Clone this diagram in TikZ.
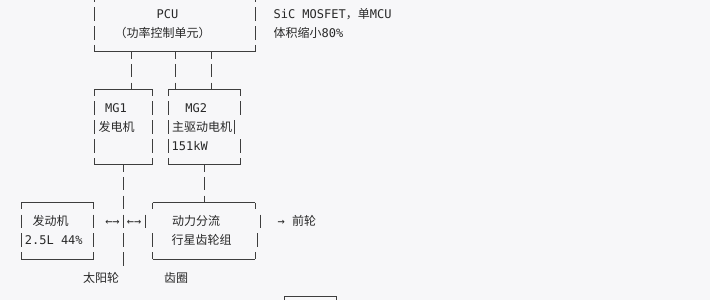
\documentclass[tikz,border=0pt]{standalone}
\usepackage{fontspec}
\setmainfont{DejaVu Sans Mono}
\newfontfamily\cjk{Noto Sans CJK SC}
\newcommand\zh[1]{{\cjk #1}}
\definecolor{bgc}{RGB}{247,247,249}
\definecolor{inkc}{RGB}{40,40,40}
\definecolor{rulec}{RGB}{62,62,62}
% glyph segments of the box-drawing characters (row pitch 18.85, half glyph 6.8)
\newcommand\vbar[2]{\draw[hline] (#1,{#2-6.8}) -- (#1,{#2+6.8});}
\newcommand\stubdn[2]{\draw[hline] (#1,#2) -- (#1,{#2+6.8});}
\newcommand\stubup[2]{\draw[hline] (#1,{#2-6.8}) -- (#1,#2);}
\begin{document}
\begin{tikzpicture}[x=1pt,y=-1pt,
  lbl/.style={inner sep=0pt, outer sep=0pt, text=inkc, font=\fontsize{12}{14}\selectfont, anchor=base},
  lblw/.style={lbl, anchor=base west},
  hline/.style={draw=rulec, line width=1pt},
  vline/.style={draw=rulec, line width=1pt, dash pattern=on 13.6pt off 5.25pt, dash phase=6.8pt},
  ]
\useasboundingbox (0,0) rectangle (710,300);
\fill[bgc] (0,0) rectangle (710,300);
\clip (0,0) rectangle (710,300);

% ---------- PCU ----------
\coordinate (pcuNW) at (94.3,-42.55);
\coordinate (pcuNE) at (255.7,-42.55);
\coordinate (pcuSW) at (94.3,51.7);
\coordinate (pcuSE) at (255.7,51.7);
\coordinate (pcuP1) at (131,51.7);
\coordinate (pcuP2) at (175,51.7);
\coordinate (pcuP3) at (211.7,51.7);
\draw[hline] (pcuNW) -- (pcuNE);
\draw[hline] (pcuSW) -- (pcuSE);
\draw[vline] (pcuNW) -- (pcuSW);
\draw[vline] (pcuNE) -- (pcuSE);
\node[lbl] (pcu) at (167.5,18.4) {PCU};
\node[lbl] (pcusub) at (162.5,37.25) {\zh{（功率控制单元）}};
\node[lblw] (sic) at (273.6,18.4) {SiC MOSFET\zh{，单}MCU};
\node[lblw] (vol) at (273.6,37.25) {\zh{体积缩小}80\%};

% ---------- MG1 ----------
\coordinate (mg1NW) at (94.3,89.4);
\coordinate (mg1NE) at (152.5,89.4);
\coordinate (mg1SW) at (94.3,164.8);
\coordinate (mg1SE) at (152.5,164.8);
\coordinate (mg1N) at (131,89.4);
\coordinate (mg1S) at (123.3,164.8);
\draw[hline] (mg1NW) -- (mg1NE);
\draw[hline] (mg1SW) -- (mg1SE);
\draw[vline] (mg1NW) -- (mg1SW);
\draw[vline] (mg1NE) -- (mg1SE);
\node[lbl] (mg1) at (116,112.65) {MG1};
\node[lbl] (mg1t) at (116.5,131.5) {\zh{发电机}};

% ---------- MG2 ----------
\coordinate (mg2NW) at (168,89.4);
\coordinate (mg2NE) at (240.8,89.4);
\coordinate (mg2SW) at (168,164.8);
\coordinate (mg2SE) at (240.8,164.8);
\coordinate (mg2N1) at (175,89.4);
\coordinate (mg2N2) at (211.7,89.4);
\coordinate (mg2S) at (204.2,164.8);
\draw[hline] (mg2NW) -- (mg2NE);
\draw[hline] (mg2SW) -- (mg2SE);
\draw[vline] (mg2NW) -- (mg2SW);
\stubdn{240.8}{89.4}
\vbar{240.8}{108.25}
\vbar{234.9}{127.1}
\vbar{240.8}{145.95}
\stubup{240.8}{164.8}
\node[lbl] (mg2) at (196.2,112.65) {MG2};
\node[lbl] (mg2t) at (202,131.5) {\zh{主驱动电机}};
\node[lbl] (mg2p) at (189.7,150.35) {151kW};

% PCU -> MG connectors
\draw[vline] (pcuP1) -- (mg1N);
\draw[vline] (pcuP2) -- (mg2N1);
\draw[vline] (pcuP3) -- (mg2N2);

% ---------- Engine ----------
\coordinate (engNW) at (21,202.5);
\coordinate (engNE) at (93.8,202.5);
\coordinate (engSW) at (21,259.05);
\coordinate (engSE) at (93.8,259.05);
\draw[hline] (engNW) -- (engNE);
\draw[hline] (engSW) -- (engSE);
\draw[vline] (engNW) -- (engSW);
\draw[vline] (engNE) -- (engSE);
\node[lbl] (eng) at (50.5,225.75) {\zh{发动机}};
\node[lbl] (engp) at (53.8,244.6) {2.5L 44\%};

% ---------- Planetary gear set ----------
\coordinate (plNW) at (152.7,202.5);
\coordinate (plNE) at (255.3,202.5);
\coordinate (plSW) at (152.7,259.05);
\coordinate (plSE) at (255.3,259.05);
\coordinate (plN) at (204.2,202.5);
\draw[hline] (plNW) -- (plNE);
\draw[hline] (plSW) -- (plSE);
\stubdn{152.7}{202.5}
\vbar{145.3}{221.35}
\vbar{152.7}{240.2}
\stubup{152.7}{259.05}
\stubdn{255.3}{202.5}
\vbar{260}{221.35}
\vbar{257.3}{240.2}
\stubup{255.3}{259.05}
\node[lbl] (pl1) at (196,225.75) {\zh{动力分流}};
\node[lbl] (pl2) at (201.7,244.6) {\zh{行星齿轮组}};

% MG2 -> planetary, MG1 -> sun gear
\draw[vline] (mg2S) -- (plN);
\coordinate (sunEnd) at (123.3,265.85);
\draw[vline] (mg1S) -- (sunEnd);

% arrows and labels
\node[lbl] (ar1) at (112.5,225.75) {←→};
\node[lbl] (ar2) at (134.2,225.75) {←→};
\node[lblw] (front) at (277.6,225.75) {→ \zh{前轮}};
\node[lbl] (sun) at (101,282.3) {\zh{太阳轮}};
\node[lbl] (ring) at (176,282.3) {\zh{齿圈}};

% ---------- box below ----------
\coordinate (botNW) at (284.3,296.75);
\coordinate (botNE) at (336.7,296.75);
\draw[hline] (botNW) -- (botNE);
\stubdn{284.3}{296.75}
\stubdn{336.7}{296.75}
\end{tikzpicture}
\end{document}
